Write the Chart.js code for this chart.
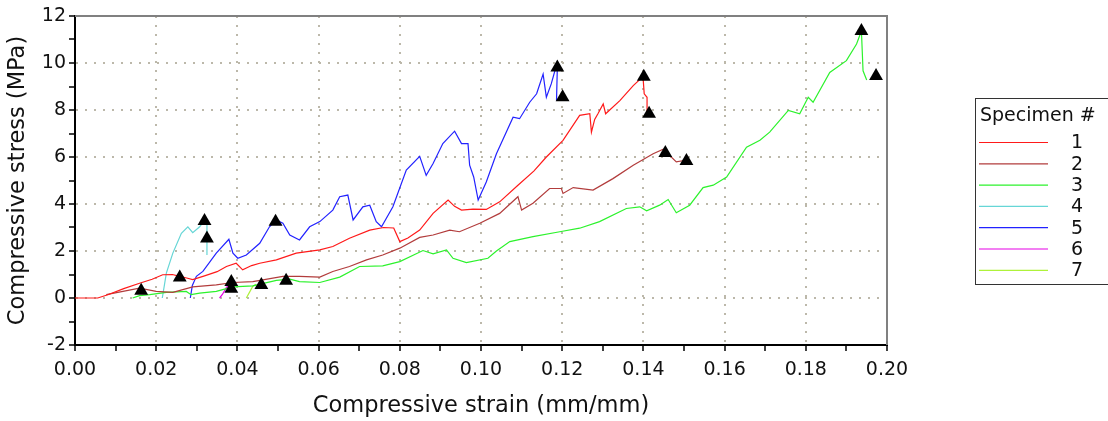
<!DOCTYPE html>
<html>
<head>
<meta charset="utf-8">
<script src="https://cdn.jsdelivr.net/npm/chart.js@4.4.1/dist/chart.umd.min.js"></script>
<style>
  html, body { margin: 0; padding: 0; background: #fff; }
  canvas { display: block; }
</style>
</head>
<body>
<canvas id="stress-chart" width="1108" height="421"></canvas>
<script>
// strain (mm/mm) / stress (MPa) per specimen
var strain1 = [0, 0.0056, 0.0081, 0.0120, 0.0159, 0.0190, 0.0216, 0.0240, 0.0258, 0.0275, 0.0290, 0.0319, 0.0350, 0.0373, 0.0397, 0.0413, 0.0435, 0.0455, 0.0496, 0.0545, 0.0603, 0.0635, 0.0676, 0.0726, 0.0760, 0.0785, 0.0800, 0.0820, 0.0849, 0.0882, 0.0919, 0.0935, 0.0952, 0.0980, 0.1013, 0.1046, 0.1091, 0.1130, 0.1161, 0.1202, 0.1243, 0.1268, 0.1272, 0.1280, 0.1288, 0.1301, 0.1307, 0.1342, 0.1375, 0.1399, 0.1402, 0.1409, 0.1409];
var stress1 = [0, 0, 0.14, 0.40, 0.63, 0.80, 0.99, 1.00, 0.92, 0.85, 0.78, 0.94, 1.12, 1.34, 1.48, 1.20, 1.38, 1.48, 1.62, 1.91, 2.05, 2.19, 2.54, 2.89, 3.00, 2.98, 2.40, 2.55, 2.89, 3.60, 4.17, 3.90, 3.74, 3.78, 3.77, 4.09, 4.80, 5.40, 6.00, 6.71, 7.77, 7.84, 7.06, 7.60, 7.84, 8.26, 7.84, 8.40, 9.04, 9.42, 8.69, 8.54, 7.84];

var strain2 = [0.0077, 0.0118, 0.0159, 0.0200, 0.0241, 0.0290, 0.0348, 0.0389, 0.0438, 0.0512, 0.0553, 0.0603, 0.0635, 0.0676, 0.0718, 0.0758, 0.0800, 0.0849, 0.0882, 0.0923, 0.0947, 0.0997, 0.1046, 0.1091, 0.1100, 0.1128, 0.1169, 0.1198, 0.1202, 0.1227, 0.1276, 0.1325, 0.1375, 0.1424, 0.1449, 0.1481, 0.1500];
var stress2 = [0.14, 0.28, 0.42, 0.28, 0.24, 0.47, 0.56, 0.66, 0.70, 0.92, 0.92, 0.89, 1.13, 1.34, 1.62, 1.83, 2.12, 2.58, 2.68, 2.89, 2.82, 3.18, 3.60, 4.31, 3.74, 4.03, 4.66, 4.66, 4.45, 4.70, 4.59, 5.08, 5.65, 6.14, 6.33, 5.79, 5.85];

var strain3 = [0.0142, 0.0159, 0.0184, 0.0225, 0.0274, 0.0286, 0.0307, 0.0348, 0.0389, 0.0438, 0.0496, 0.0529, 0.0553, 0.0603, 0.0652, 0.0701, 0.0758, 0.0800, 0.0857, 0.0882, 0.0915, 0.0931, 0.0964, 0.1017, 0.1038, 0.1071, 0.1128, 0.1194, 0.1243, 0.1292, 0.1358, 0.1391, 0.1408, 0.1440, 0.1461, 0.1481, 0.1514, 0.1547, 0.1572, 0.1605, 0.1654, 0.1687, 0.1711, 0.1757, 0.1785, 0.1806, 0.1818, 0.1859, 0.1900, 0.1925, 0.1937, 0.1941, 0.1950];
var stress3 = [0, 0.10, 0.14, 0.24, 0.28, 0.14, 0.21, 0.28, 0.47, 0.52, 0.75, 0.80, 0.70, 0.66, 0.89, 1.34, 1.37, 1.55, 2.02, 1.88, 2.05, 1.69, 1.51, 1.69, 2.00, 2.40, 2.61, 2.82, 2.97, 3.25, 3.81, 3.88, 3.71, 3.95, 4.19, 3.63, 3.95, 4.70, 4.80, 5.15, 6.42, 6.71, 7.06, 7.98, 7.84, 8.54, 8.33, 9.60, 10.10, 10.81, 11.36, 9.67, 9.28];

var strain4 = [0.0215, 0.0225, 0.0241, 0.0262, 0.0278, 0.0290, 0.0307, 0.0319, 0.0325, 0.0325];
var stress4 = [0, 1.06, 1.91, 2.75, 3.03, 2.78, 3.03, 3.30, 3.30, 1.83];

var strain5 = [0.0284, 0.0289, 0.0299, 0.0315, 0.0348, 0.0379, 0.0389, 0.0401, 0.0422, 0.0455, 0.0479, 0.0496, 0.0512, 0.0529, 0.0553, 0.0578, 0.0603, 0.0635, 0.0652, 0.0672, 0.0685, 0.0709, 0.0726, 0.0742, 0.0755, 0.0783, 0.0816, 0.0849, 0.0865, 0.0882, 0.0906, 0.0935, 0.0952, 0.0968, 0.0972, 0.0982, 0.0993, 0.1013, 0.1038, 0.1079, 0.1095, 0.1120, 0.1137, 0.1153, 0.1161, 0.1173, 0.1182, 0.1188, 0.1186];
var stress5 = [0, 0.53, 0.92, 1.13, 1.91, 2.50, 1.91, 1.69, 1.83, 2.33, 3.03, 3.32, 3.18, 2.68, 2.47, 3.03, 3.25, 3.74, 4.31, 4.38, 3.32, 3.88, 3.95, 3.25, 3.03, 3.88, 5.44, 6.03, 5.22, 5.72, 6.57, 7.10, 6.57, 6.57, 5.65, 5.15, 4.17, 4.94, 6.14, 7.69, 7.63, 8.33, 8.69, 9.53, 8.54, 9.11, 9.67, 9.81, 8.40];

var strain6 = [0.0356, 0.0363, 0.0373, 0.0380];
var stress6 = [0, 0.15, 0.45, 0.55];

var strain7 = [0.0422, 0.0430, 0.0438, 0.0446];
var stress7 = [0, 0.25, 0.50, 0.58];

// peak / break markers
var markStrain = [0.0163, 0.0258, 0.0319, 0.0325, 0.0385, 0.0385, 0.0459, 0.0520, 0.0494, 0.1188, 0.1201, 0.1401, 0.1414, 0.1454, 0.1506, 0.1937, 0.1973];
var markStress = [0.31, 0.87, 3.28, 2.53, 0.68, 0.39, 0.55, 0.73, 3.25, 9.81, 8.54, 9.42, 7.84, 6.17, 5.83, 11.36, 9.45];

var specimens = ['1', '2', '3', '4', '5', '6', '7'];
var colors = ['#ff1a1a', '#b23c3c', '#2cf22c', '#66d6d6', '#2222ff', '#e600e6', '#aef23a'];
var strains = [strain1, strain2, strain3, strain4, strain5, strain6, strain7];
var stresses = [stress1, stress2, stress3, stress4, stress5, stress6, stress7];

function pts(xs, ys) {
  return xs.map(function (x, i) { return { x: x, y: ys[i] }; });
}

var datasets = specimens.map(function (name, i) {
  return {
    label: name,
    data: pts(strains[i], stresses[i]),
    showLine: true,
    borderColor: colors[i],
    borderWidth: 1.2,
    pointRadius: 0,
    fill: false,
    tension: 0
  };
});
// triangles sit on top of the curves
datasets.push({
  label: 'markers',
  data: pts(markStrain, markStress),
  order: -1,
  showLine: false,
  pointStyle: 'triangle',
  pointRadius: 8,
  backgroundColor: '#000',
  borderColor: '#000',
  borderWidth: 0
});

var FONT = '"DejaVu Sans", Verdana, sans-serif';
var GRID = '#bcb8aa';

// gray frame on the top and right of the plot area
var frame = {
  id: 'frame',
  beforeDatasetsDraw: function (chart) {
    var a = chart.chartArea, ctx = chart.ctx;
    ctx.save();
    ctx.strokeStyle = '#808080';
    ctx.lineWidth = 2;
    ctx.beginPath();
    ctx.moveTo(a.left, a.top);
    ctx.lineTo(a.right, a.top);
    ctx.lineTo(a.right, a.bottom);
    ctx.stroke();
    ctx.restore();
  }
};

// boxed legend to the right
var specLegend = {
  id: 'specLegend',
  afterDraw: function (chart) {
    var ctx = chart.ctx;
    var left = 975.5, top = 98.5, bottom = 284.5;
    ctx.save();
    ctx.strokeStyle = '#333';
    ctx.lineWidth = 1;
    ctx.strokeRect(left, top, 1120 - left, bottom - top);
    ctx.fillStyle = '#111';
    ctx.font = '19px ' + FONT;
    ctx.textBaseline = 'alphabetic';
    ctx.fillText('Specimen #', 980, 121);
    ctx.textBaseline = 'middle';
    chart.data.datasets.forEach(function (ds, i) {
      if (ds.label === 'markers') return;
      var y = 142.5 + i * 21.3;
      ctx.strokeStyle = ds.borderColor;
      ctx.lineWidth = 1.2;
      ctx.beginPath();
      ctx.moveTo(979, y);
      ctx.lineTo(1048, y);
      ctx.stroke();
      ctx.fillStyle = '#111';
      ctx.fillText(ds.label, 1071, y + 1);
    });
    ctx.restore();
  }
};

new Chart(document.getElementById('stress-chart').getContext('2d'), {
  type: 'scatter',
  data: { datasets: datasets },
  plugins: [frame, specLegend],
  options: {
    responsive: false,
    animation: false,
    devicePixelRatio: 1,
    layout: { padding: { top: 16, right: 221, bottom: 0, left: 0 } },
    plugins: {
      legend: { display: false },
      tooltip: { enabled: false }
    },
    scales: {
      x: {
        type: 'linear',
        min: 0,
        max: 0.2,
        afterFit: function (scale) { scale.height = 76; },
        ticks: {
          stepSize: 0.01,
          autoSkip: false,
          maxRotation: 0,
          padding: 8,
          color: '#111',
          font: { family: FONT, size: 19 },
          callback: function (v) {
            var n = Math.round(v * 100);
            return n % 2 === 0 ? (n / 100).toFixed(2) : '';
          }
        },
        grid: {
          color: function (c) {
            return c.tick && Math.round(c.tick.value * 100) % 2 === 0 ? GRID : 'rgba(0,0,0,0)';
          },
          lineWidth: 2,
          tickColor: '#000',
          tickLength: 6,
          tickWidth: 1.5
        },
        border: { color: '#000', width: 2, dash: [2, 7] },
        title: {
          display: true,
          text: 'Compressive strain (mm/mm)',
          color: '#111',
          font: { family: FONT, size: 22.5 },
          padding: { top: 0, bottom: 1 }
        }
      },
      y: {
        type: 'linear',
        min: -2,
        max: 12,
        afterFit: function (scale) { scale.width = 75; },
        ticks: {
          stepSize: 1,
          autoSkip: false,
          padding: 3,
          color: '#111',
          font: { family: FONT, size: 19 },
          callback: function (v) {
            return Math.round(v) % 2 === 0 ? String(Math.round(v)) : '';
          }
        },
        grid: {
          color: function (c) {
            return c.tick && Math.round(c.tick.value) % 2 === 0 ? GRID : 'rgba(0,0,0,0)';
          },
          lineWidth: 2,
          tickColor: '#000',
          tickLength: 6,
          tickWidth: 1.5
        },
        border: { color: '#000', width: 2, dash: [2, 7] },
        title: {
          display: true,
          text: 'Compressive stress (MPa)',
          color: '#111',
          font: { family: FONT, size: 22.5 },
          padding: { top: 5, bottom: 0 }
        }
      }
    }
  }
});
</script>
</body>
</html>
